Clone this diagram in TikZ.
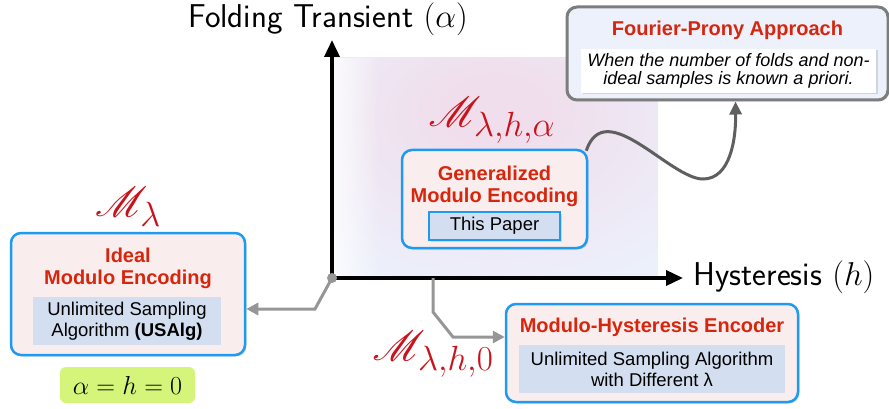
\RequirePackage{fix-cm}
\documentclass[tikz,border=0pt]{standalone}
\usepackage{fontspec}
\usepackage{mathrsfs}
\DeclareFontFamily{U}{rsfs}{\skewchar\font127 }
\DeclareFontShape{U}{rsfs}{m}{n}{<-6> rsfs5 <6-8> rsfs7 <8-> rsfs10}{}
\usetikzlibrary{arrows.meta,shadows,fadings}
\newfontfamily\hv{Liberation Sans}
\DeclareMathSizes{42}{42}{35}{28}
\definecolor{redtxt}{RGB}{214,38,14}
\definecolor{mred}{RGB}{200,18,28}
\definecolor{bblue}{RGB}{30,155,240}
\definecolor{boxfill}{RGB}{250,237,237}
\definecolor{innerfill}{RGB}{211,223,240}
\definecolor{limeg}{RGB}{212,245,122}
\definecolor{fpfill}{RGB}{236,241,252}
\definecolor{fpborder}{RGB}{125,125,125}
\definecolor{conng}{RGB}{150,150,150}
\definecolor{curvg}{RGB}{95,95,95}
\definecolor{bgpink}{RGB}{240,222,236}
\definecolor{bgblue}{RGB}{236,240,251}
\pgfdeclareradialshading{bgshade}{\pgfpoint{0bp}{14bp}}{color(0bp)=(bgpink); color(8bp)=(bgpink); color(38bp)=(bgblue); color(100bp)=(bgblue)}
\tikzfading[name=fadeR, left color=transparent!0, right color=transparent!100]
\begin{document}
\begin{tikzpicture}[x=1pt,y=-1pt,
  shad/.style={drop shadow={shadow xshift=1.5pt,shadow yshift=-1.5pt,opacity=0.25}},
  bigbox/.style={draw=bblue,line width=2.5pt,fill=boxfill,rounded corners=10pt,shad,inner sep=0pt},
  innerbox/.style={fill=innerfill,inner sep=0pt,align=center,font=\hv\fontsize{18.5}{21}\selectfont},
  title/.style={text=redtxt,align=center,inner sep=0pt,font=\hv\bfseries\fontsize{20}{22}\selectfont},
  mlab/.style={text=mred,inner sep=0pt,font=\fontsize{42}{42}\selectfont},
  axlab/.style={inner sep=0pt,font=\sffamily\fontsize{33}{35}\selectfont},
  axis/.style={line width=3.5pt,-{Triangle[width=15pt,length=17pt]}},
  conn/.style={draw=conng,line width=3pt,-{Triangle[width=12pt,length=12pt]}},
  curv/.style={draw=curvg,line width=3pt,-{Triangle[width=12pt,length=13pt]}}]
\useasboundingbox (0,0) rectangle (889,409);

% background gradient
\shade[shading=bgshade] (333,58) rectangle (658,277);
\fill[white,path fading=fadeR,fill opacity=0.8] (333,58) rectangle (380,277);

% axes
\coordinate (O) at (332,278);
\coordinate (ytip) at (332,40);
\coordinate (xtip) at (683,278);
\draw[axis] (O) -- (ytip);
\draw[axis] (O) -- (xtip);
\node[axlab] (ylab) at (328,19) {Folding Transient $(\alpha)$};
\node[axlab] (xlab) at (784,277.5) {Hysteresis $(h)$};

% ideal box
\node[bigbox,minimum width=234pt,minimum height=122pt] (ideal) at (128,294) {};
\node[title] (idealt) at (128,268) {Ideal\\Modulo Encoding};
\node[innerbox,minimum width=188pt,minimum height=48pt] (ideali) at (127,321) {Unlimited Sampling\\Algorithm {\bfseries (USAlg)}};
\node[mlab] (m1) at (128,207) {$\mathscr{M}_{\lambda}$};
\node[fill=limeg,rounded corners=6pt,minimum width=135pt,minimum height=36pt,inner sep=0pt,font=\fontsize{26}{28}\selectfont] (zero) at (127.5,385) {$\alpha=h=0$};

% generalized box
\node[bigbox,minimum width=185pt,minimum height=98pt] (gen) at (494.5,199) {};
\node[title] (gent) at (494.5,186) {Generalized\\Modulo Encoding};
\node[innerbox,draw=bblue,line width=1.8pt,shad,minimum width=131pt,minimum height=28pt] (geni) at (494.5,226) {This Paper};
\node[mlab] (m2) at (492,120) {$\mathscr{M}_{\lambda,h,\alpha}$};

% Fourier box
\node[draw=fpborder,line width=3pt,fill=fpfill,rounded corners=10pt,shad,minimum width=321pt,minimum height=93pt,inner sep=0pt] (fp) at (727.5,53.5) {};
\node[title] (fpt) at (727.5,30) {Fourier-Prony Approach};
\node[fill=white,shad,minimum width=295pt,minimum height=44pt,inner sep=0pt,align=center,font=\hv\itshape\fontsize{18}{18}\selectfont] (fpi) at (728.5,71) {When the number of folds and non-\\ideal samples is known a priori.};

% modulo-hysteresis box
\node[bigbox,minimum width=292pt,minimum height=98pt] (mh) at (652,353) {};
\node[title] (mht) at (652,327) {Modulo-Hysteresis Encoder};
\node[innerbox,minimum width=266pt,minimum height=48pt] (mhi) at (652,369) {Unlimited Sampling Algorithm\\with Different λ};
\node[mlab] (m3) at (433,354) {$\mathscr{M}_{\lambda,h,0}$};

% connectors
\draw[conn] (O) -- (315,309) -- ([yshift=-15pt]ideal.east);
\coordinate (hs) at (433,278);
\draw[conn] (hs) -- (433,312) -- (453,337) -- ([yshift=16pt]mh.west);
\draw[curv] ([shift={(-2pt,-2pt)}]gen.north east) .. controls (605,95) and (670,179) .. (703,179) .. controls (730,179) and (736,140) .. ([xshift=8pt]fp.south);
\fill[conng] (O) circle (5pt);
\end{tikzpicture}
\end{document}
